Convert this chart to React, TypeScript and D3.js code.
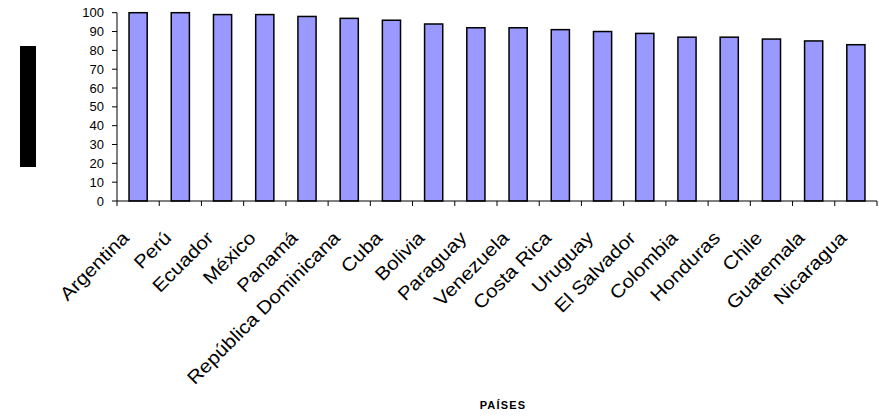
import React from "react";
import * as d3 from "d3";

const countries = ["Argentina","Perú","Ecuador","México","Panamá","República Dominicana","Cuba","Bolivia","Paraguay","Venezuela","Costa Rica","Uruguay","El Salvador","Colombia","Honduras","Chile","Guatemala","Nicaragua"];
const values = [100,100,99,99,98,97,96,94,92,92,91,90,89,87,87,86,85,83];
const yTicks = [0,10,20,30,40,50,60,70,80,90,100];
const xTitle = "PAÍSES";

const W = 879, H = 416;
const left = 117, right = 877, top = 12.7, bottom = 201;

export default function App() {
  const x = d3.scaleBand<string>().domain(countries).range([left, right]).padding(0);
  const y = d3.scaleLinear().domain([0, 100]).range([bottom, top]);
  const step = x.step();
  const bw = step * 0.43;
  const font = "'Liberation Sans', Arial, sans-serif";
  return (
    <svg width={W} height={H} style={{ position: "absolute", left: 0, top: 0, background: "#fff" }} fontFamily={font}>
      <rect x={20} y={46} width={16} height={121} fill="#000" />
      {countries.map((c, i) => {
        const cx = (x(c) as number) + step / 2;
        return (
          <rect key={c} x={cx - bw / 2} y={y(values[i])} width={bw} height={bottom - y(values[i])}
            fill="#9999FF" stroke="#000" strokeWidth={1.5} />
        );
      })}
      <line x1={left} x2={left} y1={top} y2={bottom} stroke="#000" />
      {yTicks.map(t => (
        <g key={t}>
          <line x1={left - 5} x2={left} y1={y(t)} y2={y(t)} stroke="#000" />
          <text x={104} y={y(t)} dy="0.35em" textAnchor="end" fontSize={13} fill="#000">{t}</text>
        </g>
      ))}
      <line x1={left} x2={right} y1={bottom} y2={bottom} stroke="#000" />
      {countries.map((c, i) => (
        <line key={"t" + c} x1={x(c) as number} x2={x(c) as number} y1={bottom} y2={bottom + 5} stroke="#000" />
      ))}
      <line x1={right} x2={right} y1={bottom} y2={bottom + 5} stroke="#000" />
      {countries.map(c => {
        const cx = (x(c) as number) + step / 2;
        return (
          <text key={"l" + c} transform={`translate(${cx - 8},239) rotate(-45) scale(1.12,1)`} textAnchor="end" fontSize={18.5} fill="#000">{c}</text>
        );
      })}
      <text x={503} y={409} textAnchor="middle" fontSize={11} fontWeight="bold" letterSpacing={1.2} fill="#000">{xTitle}</text>
    </svg>
  );
}
